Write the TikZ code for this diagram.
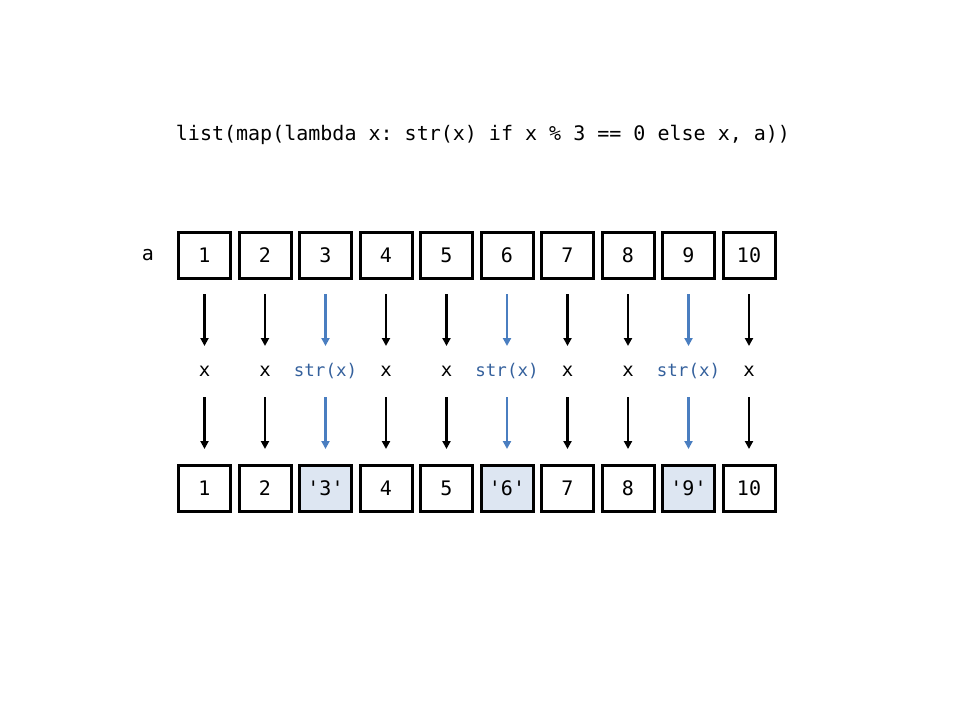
\documentclass[tikz,border=0pt]{standalone}
\usepackage{fontspec}
\setmonofont{DejaVu Sans Mono}
\usetikzlibrary{arrows.meta}
\definecolor{blu}{RGB}{74,126,192}
\definecolor{blutext}{RGB}{52,96,156}
\definecolor{blufill}{RGB}{221,230,242}
\tikzset{
  cell/.style={draw=black, line width=3pt, minimum width=52pt, minimum height=46pt, inner sep=0pt, font=\ttfamily\fontsize{20}{20}\selectfont},
  hl/.style={cell, fill=blufill},
  arr/.style={line width=2.2pt, -{Triangle[length=8pt,width=8pt]}},
  barr/.style={arr, draw=blu, fill=blu},
  lbl/.style={font=\ttfamily\fontsize{19}{19}\selectfont, inner sep=0pt},
  blbl/.style={lbl, font=\ttfamily\fontsize{17.5}{17.5}\selectfont, text=blutext}
}
\begin{document}
\begin{tikzpicture}[x=1pt,y=-1pt]
\useasboundingbox (0,0) rectangle (960,720);
\node[font=\ttfamily\fontsize{20}{20}\selectfont, inner sep=0pt] (title) at (483,135) {list(map(lambda x: str(x) if x \% 3 == 0 else x, a))};
\node[font=\ttfamily\fontsize{20}{20}\selectfont, inner sep=0pt] (aname) at (148,255) {a};
\foreach \i/\v/\o/\h/\lab in {1/1/1/0/x,2/2/2/0/x,3/3/'3'/1/str(x),4/4/4/0/x,5/5/5/0/x,6/6/'6'/1/str(x),7/7/7/0/x,8/8/8/0/x,9/9/'9'/1/str(x),10/10/10/0/x}{
  \pgfmathsetmacro{\cx}{204.5+60.5*(\i-1)}
  \node[cell] (t\i) at (\cx,255) {\v};
  \coordinate (p\i) at (\cx,294);
  \coordinate (q\i) at (\cx,346);
  \coordinate (r\i) at (\cx,397);
  \coordinate (s\i) at (\cx,449);
  \ifnum\h=1
    \node[hl] (b\i) at (\cx,488) {\o};
    \node[blbl] (m\i) at (\cx,371) {\lab};
    \draw[barr] (p\i) -- (q\i);
    \draw[barr] (r\i) -- (s\i);
  \else
    \node[cell] (b\i) at (\cx,488) {\o};
    \node[lbl] (m\i) at (\cx,371) {\lab};
    \draw[arr] (p\i) -- (q\i);
    \draw[arr] (r\i) -- (s\i);
  \fi
}
\end{tikzpicture}
\end{document}
